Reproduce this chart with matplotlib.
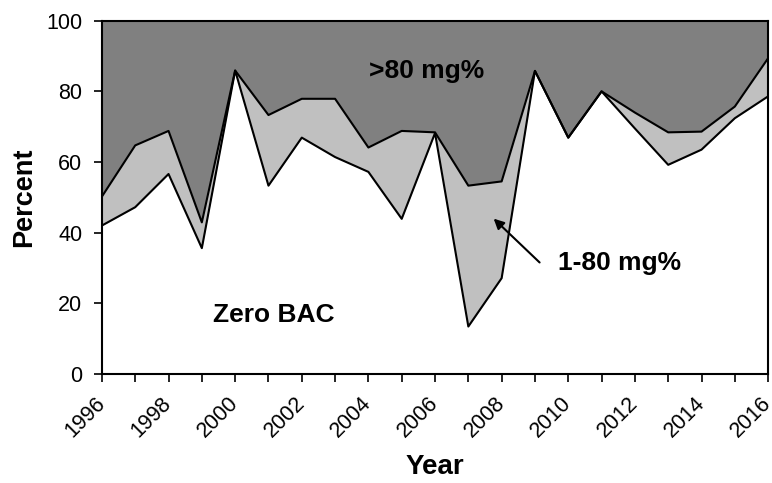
import matplotlib
matplotlib.use("Agg")
import matplotlib.pyplot as plt
import numpy as np

plt.rcParams['font.family'] = ['Liberation Sans', 'DejaVu Sans']

###### DATA ######
years = list(range(1996, 2017))
# percent of drivers with zero BAC
zero_bac = [42.0, 47.2, 56.6, 35.6, 85.9, 53.3, 66.9, 61.4, 57.2, 43.9, 68.2,
            13.4, 27.1, 85.8, 66.9, 80.0, 69.5, 59.2, 63.5, 72.4, 78.6]
# cumulative: zero BAC + 1-80 mg%
zero_plus_low = [50.2, 64.7, 68.8, 42.9, 85.9, 73.3, 77.9, 77.9, 64.1, 68.8, 68.4,
                 53.3, 54.5, 85.8, 66.9, 80.0, 74.0, 68.4, 68.6, 75.7, 89.4]
tick_years = list(range(1996, 2017, 2))

###### PLOT ######
fig = plt.figure(figsize=(7.72, 4.83), dpi=100)
ax = fig.add_axes([0.132, 0.226, 0.863, 0.731])

ax.fill_between(years, zero_plus_low, 100, color='#808080', lw=0)
ax.fill_between(years, zero_bac, zero_plus_low, color='#c0c0c0', lw=0)
ax.plot(years, zero_plus_low, color='black', lw=1.5)
ax.plot(years, zero_bac, color='black', lw=1.5)

ax.set_xlim(1996, 2016)
ax.set_ylim(0, 100)
ax.set_yticks(range(0, 101, 20))
ax.set_xticks(years)
ax.set_xticklabels([str(y) if y in tick_years else '' for y in years],
                   rotation=45, ha='right', va='center', rotation_mode='anchor')
ax.tick_params(axis='both', labelsize=15.5, direction='out', length=6, width=1.2)
ax.tick_params(axis='x', pad=13)
ax.tick_params(axis='y', pad=8)
for s in ax.spines.values():
    s.set_linewidth(1.5)

ax.set_xlabel('Year', fontsize=20, fontweight='bold', labelpad=9)
ax.set_ylabel('Percent', fontsize=19.5, fontweight='bold', labelpad=6.5)

ax.text(2005.75, 85.8, '>80 mg%', fontsize=19, fontweight='bold', ha='center', va='center')
ax.text(2001.15, 16.8, 'Zero BAC', fontsize=19, fontweight='bold', ha='center', va='center')
ax.text(2011.55, 31.5, '1-80 mg%', fontsize=19, fontweight='bold', ha='center', va='center')
ax.annotate('', xy=(2007.7, 44.5), xytext=(2009.2, 31),
            arrowprops=dict(arrowstyle='-|>', color='black', lw=1.5, mutation_scale=15))

fig.savefig('out.png', dpi=100)
